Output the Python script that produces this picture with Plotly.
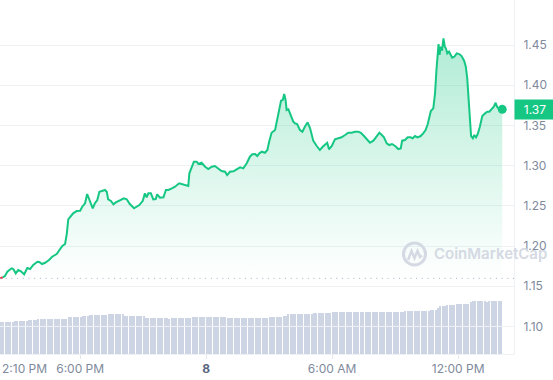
import pandas as pd
import plotly.graph_objects as go

# ---------------- data ----------------
START = pd.Timestamp("2024-03-07 14:11")

price_minutes = [
    0, 8, 14, 21, 33, 38, 45, 52, 59, 69, 78, 86, 95, 107, 112, 120, 129, 140, 149, 162,
    171, 178, 186, 191, 195, 202, 209, 219, 229, 235, 243, 249, 257, 265, 271, 278, 284, 291, 300, 305,
    309, 317, 324, 331, 343, 354, 362, 371, 383, 391, 398, 408, 414, 419, 424, 431, 438, 445, 449, 457,
    467, 474, 481, 491, 500, 512, 522, 531, 538, 541, 548, 554, 562, 567, 576, 586, 595, 605, 614, 624,
    633, 643, 649, 657, 667, 676, 686, 695, 705, 714, 721, 729, 735, 741, 748, 757, 764, 769, 776, 786,
    792, 798, 803, 808, 812, 816, 819, 824, 831, 838, 843, 849, 857, 864, 871, 879, 886, 895, 905, 914,
    922, 929, 935, 940, 948, 957, 967, 976, 986, 995, 1005, 1014, 1024, 1031, 1040, 1049, 1057, 1067, 1074, 1084,
    1091, 1097, 1105, 1112, 1120, 1129, 1138, 1145, 1149, 1157, 1165, 1173, 1179, 1186, 1193, 1202, 1209, 1216, 1222, 1227,
    1231, 1238, 1243, 1247, 1251, 1253, 1256, 1259, 1263, 1267, 1271, 1274, 1278, 1283, 1288, 1292, 1298, 1305, 1312, 1319,
    1326, 1331, 1335, 1339, 1343, 1346, 1351, 1355, 1360, 1365, 1371, 1378, 1386, 1392, 1398, 1405, 1411, 1416, 1421, 1429,
    1435,
]

price_values = [
    1.1598, 1.1611, 1.1627, 1.1680, 1.1723, 1.1714, 1.1660, 1.1701, 1.1689, 1.1648,
    1.1726, 1.1714, 1.1764, 1.1805, 1.1801, 1.1776, 1.1792, 1.1826, 1.1867, 1.1900,
    1.1950, 1.2000, 1.2025, 1.2158, 1.2332, 1.2377, 1.2407, 1.2435, 1.2439, 1.2489,
    1.2531, 1.2647, 1.2551, 1.2469, 1.2531, 1.2572, 1.2675, 1.2688, 1.2697, 1.2675,
    1.2581, 1.2560, 1.2519, 1.2543, 1.2572, 1.2593, 1.2581, 1.2522, 1.2469, 1.2497,
    1.2510, 1.2563, 1.2655, 1.2606, 1.2655, 1.2655, 1.2581, 1.2585, 1.2643, 1.2601,
    1.2606, 1.2697, 1.2697, 1.2718, 1.2738, 1.2780, 1.2767, 1.2746, 1.2746, 1.2904,
    1.2979, 1.3049, 1.3049, 1.3020, 1.3036, 1.2986, 1.2958, 1.2986, 1.2995, 1.2958,
    1.2933, 1.2924, 1.2883, 1.2924, 1.2929, 1.2954, 1.2979, 1.2966, 1.3029, 1.3111,
    1.3141, 1.3144, 1.3119, 1.3153, 1.3173, 1.3160, 1.3194, 1.3297, 1.3409, 1.3443,
    1.3567, 1.3692, 1.3807, 1.3816, 1.3891, 1.3816, 1.3692, 1.3700, 1.3629, 1.3546,
    1.3526, 1.3517, 1.3443, 1.3422, 1.3484, 1.3539, 1.3464, 1.3310, 1.3244, 1.3194,
    1.3235, 1.3269, 1.3285, 1.3203, 1.3244, 1.3327, 1.3340, 1.3352, 1.3381, 1.3409,
    1.3409, 1.3422, 1.3422, 1.3409, 1.3368, 1.3327, 1.3285, 1.3310, 1.3352, 1.3409,
    1.3381, 1.3352, 1.3277, 1.3256, 1.3269, 1.3244, 1.3206, 1.3215, 1.3310, 1.3318,
    1.3352, 1.3352, 1.3340, 1.3368, 1.3352, 1.3368, 1.3402, 1.3443, 1.3514, 1.3608,
    1.3679, 1.3713, 1.3899, 1.4189, 1.4397, 1.4512, 1.4376, 1.4479, 1.4429, 1.4583,
    1.4479, 1.4459, 1.4397, 1.4417, 1.4376, 1.4342, 1.4354, 1.4397, 1.4388, 1.4363,
    1.4305, 1.4230, 1.4086, 1.3816, 1.3526, 1.3368, 1.3340, 1.3381, 1.3352, 1.3393,
    1.3484, 1.3617, 1.3650, 1.3670, 1.3670, 1.3700, 1.3733, 1.3782, 1.3725, 1.3700,
    1.3700,
]

# volume bars: run-length encoded levels (relative units)
volume_levels = [32, 33, 34, 35, 37, 38, 39, 40, 38, 36, 35, 36, 37, 36, 37, 38, 40, 41, 42, 43,
                 44, 46, 48, 49, 50, 52, 53, 52, 53]
volume_counts = [6, 6, 4, 13, 6, 3, 8, 7, 9, 10, 1, 9, 15, 18, 6, 2, 11, 8, 31, 11,
                 3, 1, 3, 4, 6, 1, 6, 1, 6]

y_tick_values = [1.10, 1.15, 1.20, 1.25, 1.30, 1.35, 1.40, 1.45]
x_tick_times = ["2024-03-07 14:10", "2024-03-07 18:00", "2024-03-08 00:00",
                "2024-03-08 06:00", "2024-03-08 12:00"]
x_tick_labels = ["", "6:00 PM", '<span style="color:#58667e"><b>8</b></span>', "6:00 AM", "12:00 PM"]
first_label = "2:10 PM"
last_price_label = "1.37"

# ---------------- build ----------------
GREEN = "#16c784"
RED = "#ea3943"
GRID = "#eff2f5"
LABEL = "#808a9d"
FONT = "Inter"

times = START + pd.to_timedelta(price_minutes, unit="min")
open_price = price_values[0]

volume = []
for lvl, cnt in zip(volume_levels, volume_counts):
    volume.extend([lvl] * cnt)
n_bars = len(volume)
slot = price_minutes[-1] / n_bars
bar_times = [START + pd.Timedelta(minutes=(i + 0.5) * slot) for i in range(n_bars)]

fig = go.Figure()

fig.add_trace(go.Bar(
    x=bar_times, y=volume, yaxis="y2",
    marker=dict(color="#cdd4e3", line=dict(width=0)),
    width=slot * 60000 * 0.5, hoverinfo="skip", showlegend=False,
))

fig.add_trace(go.Scatter(
    x=times, y=[open_price] * len(times), mode="lines",
    line=dict(width=0, color="rgba(0,0,0,0)"), hoverinfo="skip", showlegend=False,
))
fig.add_trace(go.Scatter(
    x=times, y=price_values, mode="lines", line=dict(width=0, color="rgba(0,0,0,0)"),
    fill="tonexty",
    fillgradient=dict(type="vertical", start=1.16, stop=1.46,
                      colorscale=[[0, "rgba(22,199,132,0.0)"], [1, "rgba(22,199,132,0.34)"]]),
    hoverinfo="skip", showlegend=False,
))
fig.add_trace(go.Scatter(
    x=times[:2], y=price_values[:2], mode="lines",
    line=dict(color=RED, width=2), showlegend=False,
))
fig.add_trace(go.Scatter(
    x=times[1:], y=price_values[1:], mode="lines",
    line=dict(color=GREEN, width=2), showlegend=False,
))
fig.add_trace(go.Scatter(
    x=[times[-1]], y=[price_values[-1]], mode="markers",
    marker=dict(color=GREEN, size=9), showlegend=False,
))

PLOT_W, PLOT_H = 514, 354


def px(xp):
    return xp / PLOT_W


def py(yp):
    return (PLOT_H - yp) / PLOT_H


WM = "#d4d9e3"
shapes = [
    # opening price reference (dotted)
    dict(type="line", xref="paper", x0=0, x1=1, yref="y", y0=open_price, y1=open_price,
         line=dict(color="#a6aebd", width=1, dash="1px,4.7px"), layer="above"),
    # grid line drawn over the volume bars
    dict(type="line", xref="paper", x0=0, x1=1, yref="y", y0=1.10, y1=1.10,
         line=dict(color=GRID, width=1), layer="above"),
    # watermark logo ring
    dict(type="circle", xref="paper", yref="paper",
         x0=px(403.5), x1=px(425.5), y0=py(265), y1=py(243),
         line=dict(color=WM, width=3), layer="above"),
    dict(type="path", xref="paper", yref="paper",
         path=f"M {px(408)} {py(260)} L {px(411.5)} {py(251)} L {px(414.5)} {py(258)} "
              f"L {px(417.5)} {py(251)} L {px(420)} {py(257)} L {px(422)} {py(255.5)}",
         line=dict(color=WM, width=2.5), layer="above"),
]

annotations = [
    dict(xref="paper", yref="y", x=1, y=price_values[-1], xanchor="left", yanchor="middle",
         text=last_price_label, showarrow=False, bgcolor=GREEN,
         font=dict(color="white", size=12, family=FONT), width=36, height=15, borderpad=2, align="center"),
    dict(xref="paper", yref="paper", x=0, y=0, xanchor="left", yanchor="middle", yshift=-14,
         text=first_label, showarrow=False, font=dict(color=LABEL, size=12, family=FONT)),
    dict(xref="paper", yref="paper", x=px(432), y=py(254), xanchor="left", yanchor="middle",
         text="CoinMarketCap", showarrow=False,
         font=dict(color=WM, size=15, family=FONT, weight=600)),
]

fig.update_layout(
    width=553, height=380,
    margin=dict(l=0, r=39, t=0, b=26),
    paper_bgcolor="white", plot_bgcolor="white",
    font=dict(family=FONT, size=12, color=LABEL),
    showlegend=False, bargap=0,
    xaxis=dict(
        type="date",
        range=[START, START + pd.Timedelta(minutes=1468.6)],
        tickvals=x_tick_times, ticktext=x_tick_labels,
        showgrid=False, zeroline=False,
        showline=True, linecolor=GRID, linewidth=1,
        ticks="outside", ticklen=4, tickcolor="#e4e7ee",
        tickfont=dict(color=LABEL, size=12, family=FONT),
    ),
    yaxis=dict(
        side="right", range=[1.0657, 1.5060],
        tickvals=y_tick_values, ticktext=[f"{v:.2f}" for v in y_tick_values],
        showgrid=True, gridcolor=GRID, gridwidth=1,
        zeroline=False, showline=True, linecolor=GRID, linewidth=1,
        ticks="", ticklabelstandoff=6,
        tickfont=dict(color=LABEL, size=12, family=FONT),
    ),
    yaxis2=dict(overlaying="y", range=[0, 354], visible=False, showgrid=False),
    shapes=shapes,
    annotations=annotations,
    hovermode=False,
)

fig.write_html(
    "out.html",
    config={"displayModeBar": False},
    post_script="document.body.style.margin='0';document.body.style.overflow='hidden';",
)
